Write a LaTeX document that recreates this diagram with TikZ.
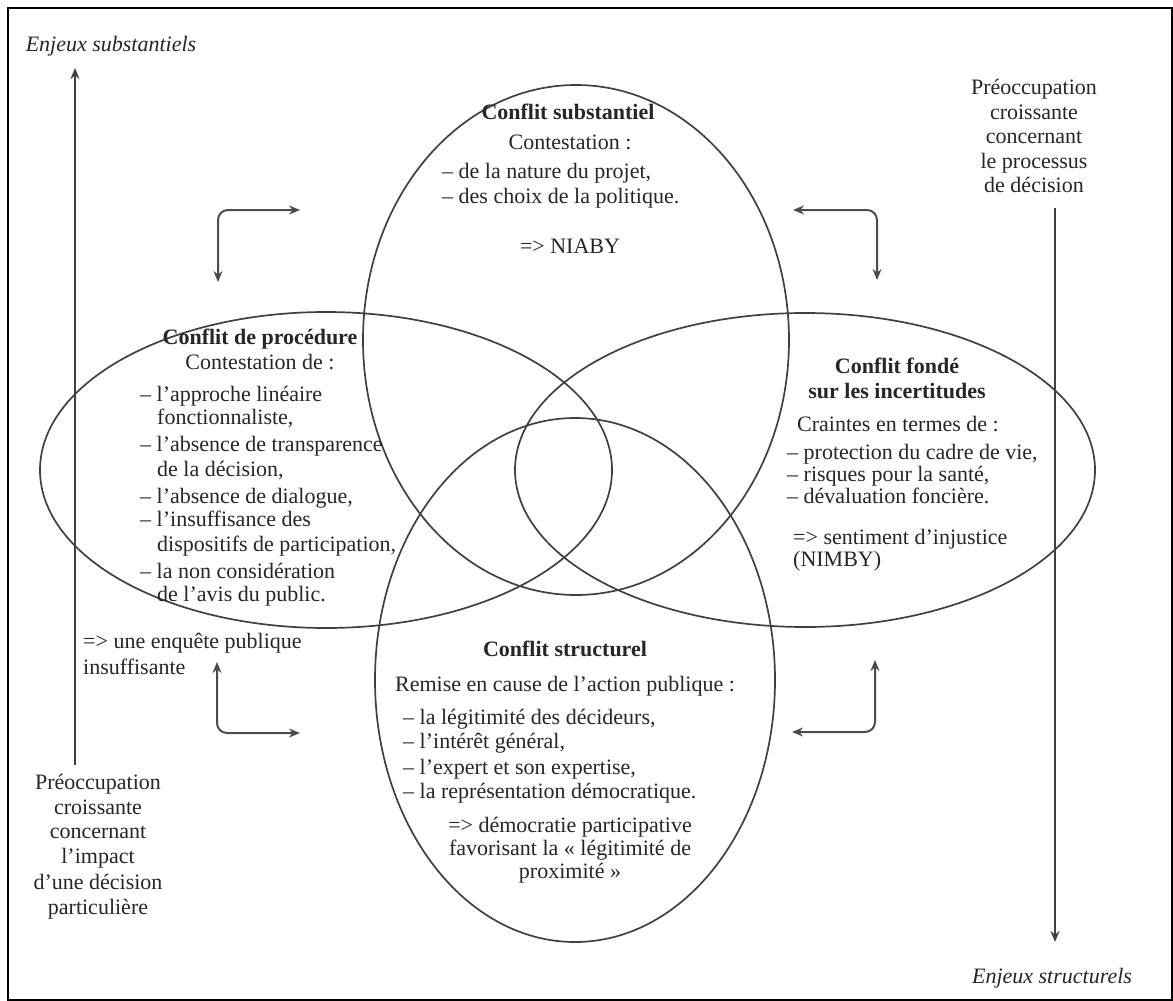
\documentclass[tikz,border=0pt]{standalone}
\usepackage{fontspec}
\setmainfont{Liberation Serif}
\usetikzlibrary{arrows.meta}
\begin{document}
\begin{tikzpicture}[x=1pt,y=-1pt,
  txt/.style={font=\fontsize{22}{25}\selectfont, inner sep=0pt, text=black!85},
  lft/.style={txt, anchor=base west},
  ctr/.style={txt, anchor=base},
  ttl/.style={txt, anchor=base, font=\fontsize{22}{25}\selectfont\bfseries},
  itl/.style={txt, anchor=base, font=\fontsize{22}{25}\selectfont\itshape},
  ell/.style={draw=black!75, line width=1.7pt},
  axis/.style={draw=black!75, line width=2pt, -{Stealth[length=11pt,width=9pt]}},
  elb/.style={draw=black!70, line width=2pt, rounded corners=10pt, {Stealth[length=11pt,width=9pt]}-{Stealth[length=11pt,width=9pt]}}
]
\useasboundingbox (0,0) rectangle (1173,1001);
\draw[black, line width=1.5pt] (8,8) rectangle (1172,1000);

% ellipses
\draw[ell] (576,340) ellipse [x radius=213pt, y radius=255pt];
\draw[ell] (326,470) ellipse [x radius=286pt, y radius=158pt];
\draw[ell] (805,470) ellipse [x radius=290pt, y radius=157pt];
\draw[ell] (575,680) ellipse [x radius=200pt, y radius=262pt];

% top: Conflit substantiel
\node[ttl] (ts) at (568,119) {Conflit substantiel};
\node[ctr] (ts1) at (570,149) {Contestation :};
\node[lft] (ts2) at (442,178) {– de la nature du projet,};
\node[lft] (ts3) at (442,203) {– des choix de la politique.};
\node[ctr] (ts4) at (570,253) {=> NIABY};

% left: Conflit de procedure
\node[ttl] (lp) at (260,344) {Conflit de procédure};
\node[ctr] (lp1) at (260,369) {Contestation de :};
\node[lft] (lp2) at (140,401) {– l’approche linéaire};
\node[lft] (lp3) at (157,424) {fonctionnaliste,};
\node[lft] (lp4) at (140,451) {– l’absence de transparence};
\node[lft] (lp5) at (157,476) {de la décision,};
\node[lft] (lp6) at (140,503) {– l’absence de dialogue,};
\node[lft] (lp7) at (140,526) {– l’insuffisance des};
\node[lft] (lp8) at (157,551) {dispositifs de participation,};
\node[lft] (lp9) at (140,578) {– la non considération};
\node[lft] (lp10) at (157,601) {de l’avis du public.};

% right: Conflit fonde sur les incertitudes
\node[ttl] (ri) at (897,373) {Conflit fondé};
\node[ttl] (ri1) at (897,398) {sur les incertitudes};
\node[ctr] (ri2) at (898,431) {Craintes en termes de :};
\node[lft] (ri3) at (787,459) {– protection du cadre de vie,};
\node[lft] (ri4) at (787,481) {– risques pour la santé,};
\node[lft] (ri5) at (787,503) {– dévaluation foncière.};
\node[lft] (ri6) at (793,544) {=> sentiment d’injustice};
\node[lft] (ri7) at (793,566) {(NIMBY)};

% bottom: Conflit structurel
\node[ttl] (bs) at (565,656) {Conflit structurel};
\node[ctr] (bs1) at (565,691) {Remise en cause de l’action publique :};
\node[lft] (bs2) at (403,724) {– la légitimité des décideurs,};
\node[lft] (bs3) at (403,748) {– l’intérêt général,};
\node[lft] (bs4) at (403,774) {– l’expert et son expertise,};
\node[lft] (bs5) at (403,798) {– la représentation démocratique.};
\node[ctr] (bs6) at (570,832) {=> démocratie participative};
\node[ctr] (bs7) at (570,855) {favorisant la « légitimité de};
\node[ctr] (bs8) at (570,878) {proximité »};

% left extra
\node[lft] (eq1) at (83,648) {=> une enquête publique};
\node[lft] (eq2) at (83,674) {insuffisante};

% corner labels
\node[itl] (esub) at (111,51) {Enjeux substantiels};
\node[itl] (estr) at (1052,983) {Enjeux structurels};

\node[ctr] (pl1) at (98,789) {Préoccupation};
\node[ctr] (pl2) at (98,814) {croissante};
\node[ctr] (pl3) at (98,838) {concernant};
\node[ctr] (pl4) at (98,863) {l’impact};
\node[ctr] (pl5) at (98,889) {d’une décision};
\node[ctr] (pl6) at (98,914) {particulière};

\node[ctr] (pr1) at (1034,94) {Préoccupation};
\node[ctr] (pr2) at (1034,119) {croissante};
\node[ctr] (pr3) at (1034,143) {concernant};
\node[ctr] (pr4) at (1034,168) {le processus};
\node[ctr] (pr5) at (1034,192) {de décision};

% vertical axes
\coordinate (la0) at (75,765);
\coordinate (la1) at (75,68);
\draw[axis] (la0) -- (la1);
\coordinate (ra0) at (1055,208);
\coordinate (ra1) at (1055,942);
\draw[axis] (ra0) -- (ra1);

% elbow arrows
\coordinate (e1h) at (300,210); \coordinate (e1v) at (218,282);
\draw[elb] (e1h) -| (e1v);
\coordinate (e2h) at (793,210); \coordinate (e2v) at (877,280);
\draw[elb] (e2h) -| (e2v);
\coordinate (e3v) at (217,662); \coordinate (e3h) at (300,733);
\draw[elb] (e3v) |- (e3h);
\coordinate (e4v) at (875,660); \coordinate (e4h) at (792,732);
\draw[elb] (e4v) |- (e4h);
\end{tikzpicture}
\end{document}
